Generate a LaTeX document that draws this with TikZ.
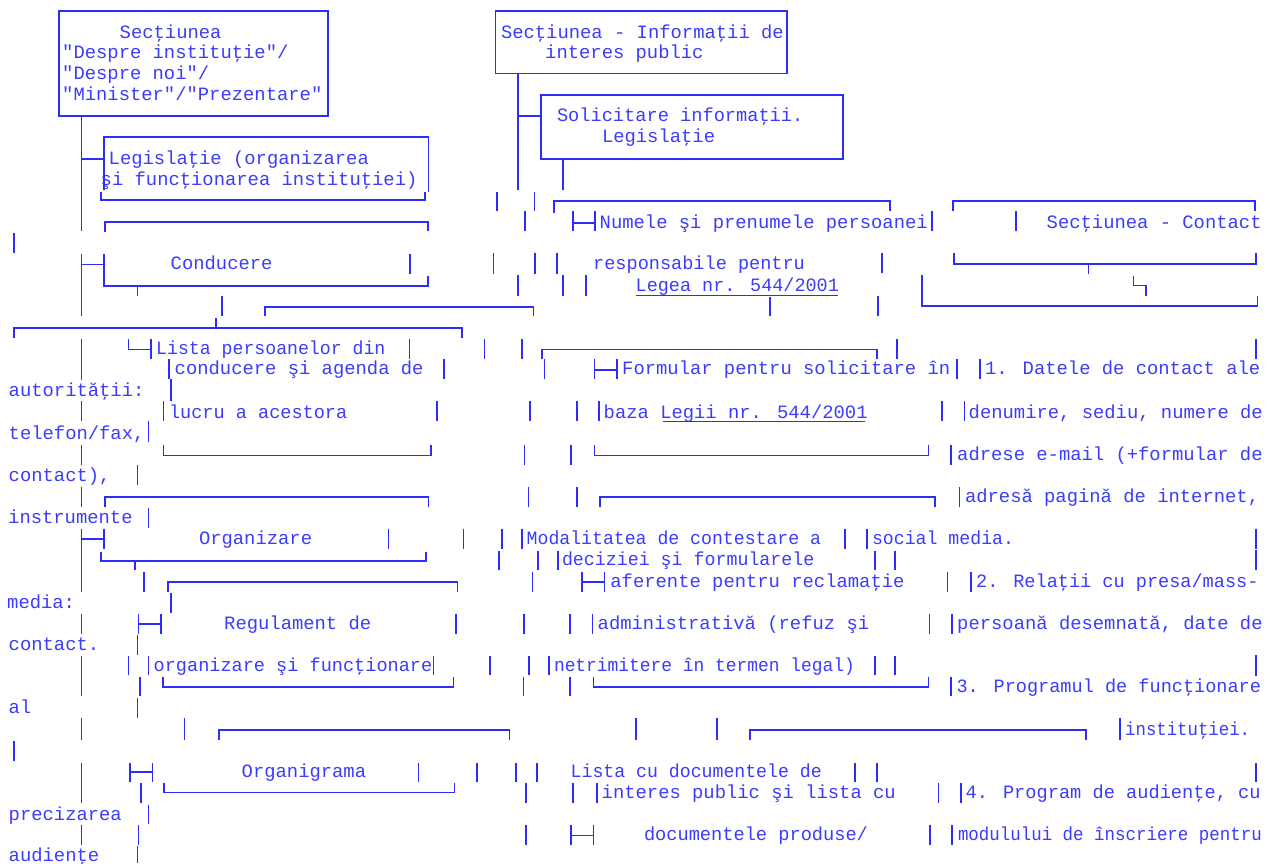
\documentclass[tikz,border=0pt]{standalone}
\usepackage{fontspec}
\usepackage{graphicx}
\newfontfamily\monof{Liberation Mono}
\definecolor{bl}{RGB}{45,45,250}
\definecolor{tb}{RGB}{60,60,250}
\tikzset{
  ln/.style={draw=bl,line width=1.6pt},
  txt/.style={font=\monof\fontsize{18.85}{20}\selectfont,text=tb,inner sep=0pt,anchor=base west}
}
\newcommand\vseg[3]{\draw[ln] (#1,#2)--(#1,#3);}
\newcommand\tn[5][1]{\node[txt] (#2) at (#3,#4) {\scalebox{#1}[1]{#5}};}
\begin{document}
\begin{tikzpicture}[x=1pt,y=-1pt]
\useasboundingbox[fill=white] (0,0) rectangle (1274,863);
% ---------- top boxes ----------
\draw[ln] (58.7,11) rectangle (327.7,116);
\tn{b1a}{119.5}{38}{Secţiunea}
\tn{b1b}{62}{58.7}{"Despre instituţie"/}
\tn{b1c}{62}{79.7}{"Despre noi"/}
\tn{b1d}{62}{100.4}{"Minister"/"Prezentare"}
\draw[ln] (495.3,11) rectangle (786.7,73.3);
\tn{b3a}{500.8}{38}{Secţiunea - Informaţii de}
\tn{b3b}{545}{58.7}{interes public}
\draw[ln] (540.7,95) rectangle (842.7,158.7);
\tn[0.99]{b4a}{556.8}{121.4}{Solicitare informaţii.}
\tn{b4b}{601.8}{142}{Legislaţie}
% main left vertical
\vseg{81.3}{116}{231}
\draw[ln] (81.3,159)--(104,159);
\foreach \a/\b in {254/316,339/380,401/421,445/465,487/507,528.7/592,613.7/634,656/696,718/740,763/803,824.7/844.7}
  {\vseg{81.3}{\a}{\b}}
% Legislatie box
\draw[ln] (104,190)--(104,137)--(428.3,137)--(428.3,191.7);
\draw[ln] (425,191.7)--(425,200)--(101,200)--(101,191.7);
\tn{lg1}{108.5}{164.7}{Legislaţie (organizarea}
\tn{lg2}{100.5}{185.4}{şi funcţionarea instituţiei)}
% box3/box4 connectors
\vseg{518}{73.3}{190}
\draw[ln] (518,116)--(540.7,116);
\vseg{562.7}{158.7}{190}
% row 192-211
\vseg{496.7}{191.7}{211}
\vseg{534.3}{191.7}{211}
\draw[ln] (554,213)--(554,201)--(890,201)--(890,211);
\draw[ln] (952.7,211)--(952.7,201)--(1255,201)--(1255,211);
% row 211-231
\vseg{525}{211}{231}
\vseg{572.7}{211}{231}\draw[ln] (572.7,222.7)--(595,222.7);\vseg{595}{211}{231}
\tn{np}{599.5}{228}{Numele şi prenumele persoanei}
\vseg{931.7}{211}{231}
\vseg{1015.7}{211}{231}
\tn{sc}{1046.5}{228.3}{Secţiunea - Contact}
\draw[ln] (105,232)--(105,222)--(428,222)--(428,231);
\vseg{14}{232.7}{252.7}
% row 253-274 Conducere
\draw[ln] (81.3,264.3)--(104,264.3);
\draw[ln] (104,254.3)--(104,286)--(427.7,286)--(427.7,276);
\vseg{410}{254}{274}
\tn{cd}{170.5}{269.7}{Conducere}
\vseg{137.3}{286}{296}
\vseg{493.3}{252.7}{274.3}
\vseg{535}{252.7}{274.3}
\vseg{556.7}{252.7}{274.3}
\tn[0.985]{rp}{593}{269.7}{responsabile pentru}
\vseg{881.7}{253.3}{273.3}
\draw[ln] (954,253.3)--(954,263.7)--(1256,263.7)--(1256,253.3);
\vseg{1088.3}{263.7}{274.3}
% row 275-296
\vseg{517.7}{275.3}{296}
\vseg{562.7}{275.3}{296}
\vseg{585.7}{275.3}{296}
\tn[0.98]{lgA}{635.5}{291.4}{Legea nr. 544/2001}
\draw[ln,line width=1.2pt] (636,295.3)--(838,295.3);
\draw[ln] (1133.3,276)--(1133.3,285.3)--(1145.7,285.3)--(1145.7,296);
\draw[ln] (921.7,275.3)--(921.7,306)--(1257.3,306)--(1257.3,296);
% row 296-316
\vseg{877.7}{296}{316}
\vseg{770}{297}{316}
\vseg{221.7}{296}{316}
\draw[ln] (265,316)--(265,307)--(533.3,307)--(533.3,316);
% row 317-338
\draw[ln] (14,337.7)--(14,327.7)--(461.7,327.7)--(461.7,337.7);
\vseg{216}{317.7}{327.7}
% row 339-359
\draw[ln] (128.3,339.3)--(128.3,349.3)--(150.7,349.3);
\vseg{150.7}{339.3}{358.7}
\tn[0.965]{lp}{156}{354}{Lista persoanelor din}
\vseg{409.3}{339.3}{358.7}
\vseg{484.3}{339.3}{358.7}
\vseg{521.7}{339.3}{358.7}
\draw[ln] (541.7,359.3)--(541.7,349.3)--(876.7,349.3)--(876.7,358.7);
\vseg{896.7}{339.3}{358.7}
\vseg{1256}{339.3}{358.7}
% row 359-379
\vseg{169}{359.3}{379.3}
\tn{ca}{174.5}{374.7}{conducere şi agenda de}
\vseg{444}{359.3}{379.3}
\vseg{544.3}{359.3}{379.3}
\vseg{594.3}{359.3}{379.3}\draw[ln] (594.3,370)--(616.7,370);\vseg{616.7}{359.3}{379.3}
\tn{fs}{622}{374.7}{Formular pentru solicitare în}
\vseg{956.7}{359.3}{379.3}
\vseg{980}{359.3}{379.3}
\tn{dc}{984.8}{374.7}{1. Datele de contact ale}
% row 380-401
\tn{au}{8.5}{396.4}{autorităţii:}
\vseg{170.7}{379.3}{401}
% row 401-421
\vseg{163.3}{401}{421}
\tn[0.985]{la}{168.8}{418}{lucru a acestora}
\vseg{436.7}{401}{421}
\vseg{530}{401}{421}
\vseg{576.7}{401}{421}
\vseg{599}{401}{421}
\tn{bz}{603.5}{418}{baza Legii nr. 544/2001}
\draw[ln,line width=1.2pt] (663,421.7)--(865,421.7);
\vseg{941.7}{401}{421}
\vseg{964.3}{401}{421}
\tn{dn}{968.5}{418}{denumire, sediu, numere de}
% row 421-445
\tn{tf}{8.5}{439}{telefon/fax,}
\vseg{148.3}{421}{442}
% row 445-465
\draw[ln] (163.3,445.3)--(163.3,455.3)--(431,455.3)--(431,445.3);
\vseg{524.3}{445.3}{465.3}
\vseg{570.7}{445.3}{465.3}
\draw[ln] (594.3,445.3)--(594.3,455.3)--(928.3,455.3)--(928.3,445.3);
\vseg{951}{445.3}{465.3}
\tn{ae}{957}{460}{adrese e-mail (+formular de}
% row 465-487
\tn{ct}{8.5}{481.7}{contact),}
\vseg{137.3}{465.3}{485.3}
% row 487-507
\draw[ln] (105,507)--(105,497)--(428.3,497)--(428.3,507);
\vseg{528.3}{487}{507}
\vseg{576.7}{487}{507}
\draw[ln] (600,507)--(600,497)--(935,497)--(935,507);
\vseg{959.3}{487}{507}
\tn{ap}{964.8}{502.4}{adresă pagină de internet,}
% row 507-528
\tn{in}{8}{523.4}{instrumente}
\vseg{148.3}{508}{528}
% row 528-549 Organizare
\draw[ln] (81.3,538.7)--(104,538.7);
\vseg{104}{528.7}{548.7}
\tn{og}{198.8}{544}{Organizare}
\vseg{388.3}{528.7}{548.7}
\vseg{463.3}{528.7}{548.7}
\vseg{501.7}{528.7}{548.7}
\vseg{521.7}{528.7}{548.7}
\tn[0.964]{md}{526.5}{544}{Modalitatea de contestare a}
\vseg{845}{528.7}{548.7}
\vseg{866.7}{528.7}{548.7}
\tn[0.966]{sm}{871.8}{544}{social media.}
\vseg{1256}{528.7}{548.7}
% row 551-570
\draw[ln] (101,552)--(101,561)--(426,561)--(426,552);
\vseg{135}{561}{570.3}
\vseg{499}{551.3}{570.3}
\vseg{537.7}{551.3}{570.3}
\vseg{557.7}{551.3}{570.3}
\tn[0.97]{dz}{561.8}{565.7}{deciziei şi formularele}
\vseg{875}{551.3}{570.3}
\vseg{895}{551.3}{570.3}
\vseg{1256}{550}{570.3}
% row 572-592
\vseg{144}{572}{592}
\draw[ln] (167.7,592)--(167.7,582)--(457.3,582)--(457.3,592);
\vseg{532.3}{572}{592}
\vseg{581.7}{572}{592}\draw[ln] (581.7,582)--(604.3,582);\vseg{604.3}{572}{592}
\tn{af}{610.2}{587.4}{aferente pentru reclamaţie}
\vseg{947.3}{572}{592}
\vseg{970.7}{572}{592}
\tn[0.985]{rl}{976}{587.4}{2. Relaţii cu presa/mass-}
% row 593-613
\tn{me}{7}{608.4}{media:}
\vseg{170.7}{593}{613}
% row 613-634 Regulament
\vseg{138.3}{613.7}{633.7}\draw[ln] (138.3,623.7)--(160.7,623.7);\vseg{160.7}{613.7}{633.7}
\tn{rg}{224}{629}{Regulament de}
\vseg{455.7}{613.7}{633.7}
\vseg{524}{613.7}{633.7}
\vseg{570}{613.7}{633.7}
\vseg{592.3}{613.7}{633.7}
\tn{ad}{597.5}{629}{administrativă (refuz şi}
\vseg{929.3}{613.7}{633.7}
\vseg{951.7}{613.7}{633.7}
\tn{pd}{957}{629}{persoană desemnată, date de}
% row 635-655
\tn{ct2}{8.5}{650.4}{contact.}
\vseg{137.3}{635}{655}
% row 656-675
\vseg{128.3}{656.3}{675.3}
\vseg{148.3}{656.3}{675.3}
\tn[0.985]{of}{153.5}{671.7}{organizare şi funcţionare}
\vseg{433.3}{656.3}{675.3}
\vseg{490}{656.3}{675.3}
\vseg{529}{656.3}{675.3}
\vseg{549}{656.3}{675.3}
\tn[0.95]{nt}{553.8}{671.7}{netrimitere în termen legal)}
\vseg{875}{656.3}{675.3}
\vseg{895}{656.3}{675.3}
\vseg{1256}{654.7}{676.3}
% row 677-696
\vseg{140}{677.3}{696.3}
\draw[ln] (162.7,677.3)--(162.7,687)--(453.3,687)--(453.3,677.3);
\vseg{523.3}{677.3}{696.3}
\vseg{570}{677.3}{696.3}
\draw[ln] (593.3,677.3)--(593.3,687)--(928.3,687)--(928.3,677.3);
\vseg{950.7}{677.3}{696.3}
\tn[0.985]{pf}{956.3}{692.7}{3. Programul de funcţionare}
% row 698-718
\tn{al}{8.5}{713.4}{al}
\vseg{137.3}{698}{718}
% row 718-740
\vseg{184.3}{718}{739.7}
\draw[ln] (219,739.7)--(219,729.7)--(509.3,729.7)--(509.3,739.7);
\vseg{635.7}{718}{739.7}
\vseg{716.7}{718}{739.7}
\draw[ln] (750,739.7)--(750,729.7)--(1086,729.7)--(1086,739.7);
\vseg{1120}{718}{739.7}
\tn[0.92]{it}{1125}{735}{instituţiei.}
% row 741-761
\vseg{14}{741.3}{761.3}
% row 763-783 Organigrama
\vseg{130}{763}{782.3}\draw[ln] (130,772)--(152.3,772);\vseg{152.3}{763}{782.3}
\tn{oa}{241.5}{777.7}{Organigrama}
\vseg{418.3}{763}{782.3}
\vseg{476.7}{763}{782.3}
\vseg{516}{763}{782.3}
\vseg{536.7}{763}{782.3}
\tn[0.965]{lc}{570.5}{777.7}{Lista cu documentele de}
\vseg{855}{763}{782.3}
\vseg{876.7}{763}{782.3}
\vseg{1256}{763}{782.3}
% row 783-803
\vseg{141}{783}{803}
\draw[ln] (164,783)--(164,792.3)--(454.3,792.3)--(454.3,783);
\vseg{525.7}{783}{803}
\vseg{572.7}{783}{803}
\vseg{596.7}{783}{803}
\tn{ip}{601.5}{798.4}{interes public şi lista cu}
\vseg{938.3}{783}{803}
\vseg{960.7}{783}{803}
\tn[0.99]{pa}{965.5}{798.4}{4. Program de audienţe, cu}
% row 804-824
\tn{pr}{8.5}{820}{precizarea}
\vseg{148.3}{804.7}{824}
% row 824-845
\vseg{138.3}{824.7}{844.7}
\vseg{525.7}{824.7}{844.7}
\vseg{571}{824.7}{844.7}\draw[ln] (571,835.3)--(593.3,835.3);\vseg{593.3}{824.7}{844.7}
\tn[0.99]{dp}{643.8}{840}{documentele produse/}
\vseg{930}{824.7}{844.7}
\vseg{951.7}{824.7}{844.7}
\tn[0.926]{mi}{957.8}{840}{modulului de înscriere pentru}
% row 846-863
\tn{ai}{8.5}{861.4}{audienţe}
\vseg{137.3}{846.3}{863}
\end{tikzpicture}
\end{document}
